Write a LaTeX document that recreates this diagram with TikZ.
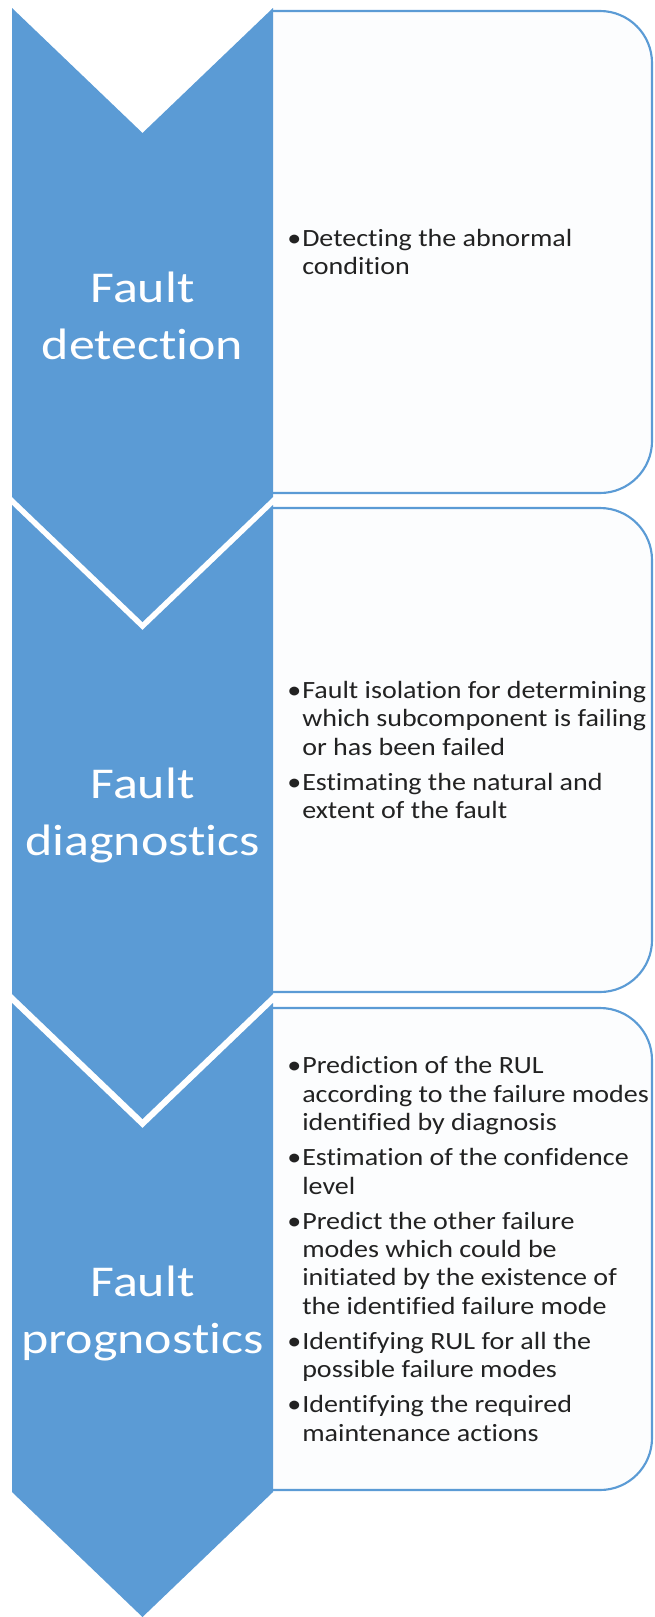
\documentclass[tikz,border=0pt]{standalone}
\usepackage{fontspec}
\setmainfont{Carlito}[FakeStretch=1.18, Ligatures=NoCommon]
\newfontfamily\bodyfont{Carlito}[FakeStretch=1.13, Ligatures=NoCommon]
\usepackage{tikz}

\definecolor{chevblue}{HTML}{5B9BD5}
\definecolor{boxfill}{HTML}{FCFDFE}
\definecolor{bodytext}{HTML}{222222}

% one bullet point with hanging indent
\newcommand{\bulitem}[1]{\par\noindent\hangindent=11.25pt\hangafter=1\makebox[11.25pt][l]{•}#1\par}

\tikzset{
  chevron/.style={fill=chevblue},
  descbox/.style={draw=chevblue, fill=boxfill, line width=1.6pt},
  phase/.style={text=white, align=center, inner sep=0pt, font=\fontsize{33pt}{42.75pt}\selectfont},
  desc/.style={anchor=west, inner sep=0pt, text=bodytext, font=\bodyfont\fontsize{18.6pt}{21.3pt}\selectfont}
}

\begin{document}
\begin{tikzpicture}[x=0.75pt, y=-0.75pt]
    \useasboundingbox (0,0) rectangle (654,1617);
    % description boxes
    \filldraw[descbox] (273,11) -- (600,11) .. controls (628.7,11) and (652,34.3) .. (652,63) -- (652,441) .. controls (652,469.7) and (628.7,493) .. (600,493) -- (273,493);
    \filldraw[descbox] (273,508) -- (600,508) .. controls (628.7,508) and (652,531.3) .. (652,560) -- (652,940) .. controls (652,968.7) and (628.7,992) .. (600,992) -- (273,992);
    \filldraw[descbox] (273,1008) -- (600,1008) .. controls (628.7,1008) and (652,1031.3) .. (652,1060) -- (652,1438) .. controls (652,1466.7) and (628.7,1490) .. (600,1490) -- (273,1490);
    % chevrons
    \fill[chevron] (12,8) -- (142.5,133) -- (273,8) -- (273,497) -- (142.5,622) -- (12,497) -- cycle;
    \fill[chevron] (12,505) -- (142.5,630) -- (273,505) -- (273,994) -- (142.5,1119) -- (12,994) -- cycle;
    \fill[chevron] (12,1003) -- (142.5,1128) -- (273,1003) -- (273,1492) -- (142.5,1617) -- (12,1492) -- cycle;
    % phase names
    \node[phase] (detect) at (142.5,316) {Fault\\detection};
    \node[phase] (diagn) at (142.5,815) {Fault\\diagnostics};
    \node[phase] (progn) at (142.5,1313) {Fault\\prognostics};
    % bullet texts
    \node[desc] (detectTxt) at (287,252) {\begin{minipage}{300pt}\setlength{\parskip}{5pt}\raggedright
        \bulitem{Detecting the abnormal\newline condition}\end{minipage}};
    \node[desc] (diagnTxt) at (287,750) {\begin{minipage}{300pt}\setlength{\parskip}{5pt}\raggedright
        \bulitem{Fault isolation for determining\newline which subcomponent is failing\newline or has been failed}
        \bulitem{Estimating the natural and\newline extent of the fault}\end{minipage}};
    \node[desc] (prognTxt) at (287,1249) {\begin{minipage}{300pt}\setlength{\parskip}{5pt}\raggedright
        \bulitem{Prediction of the RUL\newline according to the failure modes\newline identified by diagnosis}
        \bulitem{Estimation of the confidence\newline level}
        \bulitem{Predict the other failure\newline modes which could be\newline initiated by the existence of\newline the identified failure mode}
        \bulitem{Identifying RUL for all the\newline possible failure modes}
        \bulitem{Identifying the required\newline maintenance actions}\end{minipage}};
\end{tikzpicture}
\end{document}
